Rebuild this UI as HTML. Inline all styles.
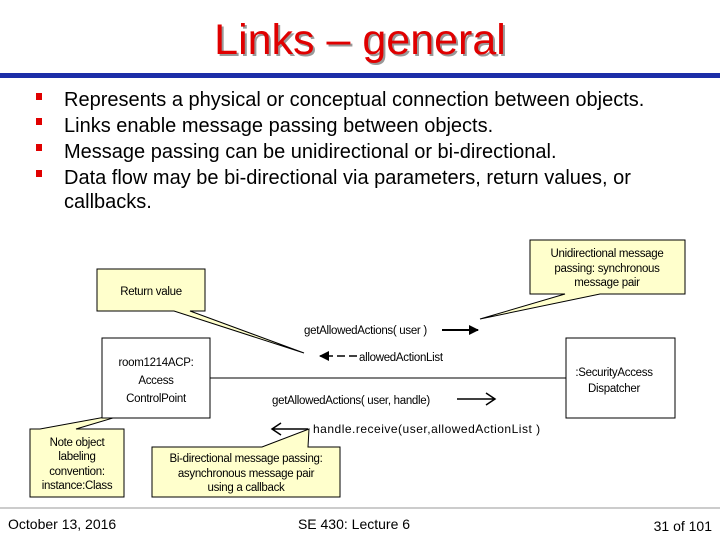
<!DOCTYPE html>
<html><head><meta charset="utf-8"><style>
body{margin:0;background:#fff}
svg{display:block}
text{font-family:"Liberation Sans",Arial,sans-serif}
</style></head><body>
<svg width="720" height="540" viewBox="0 0 720 540" xmlns="http://www.w3.org/2000/svg">
<defs>
<marker id="fa" markerWidth="10" markerHeight="10" refX="9" refY="5" orient="auto" markerUnits="userSpaceOnUse"><path d="M0,0 L10,5 L0,10 Z" fill="#000"/></marker>
</defs>
<text x="362" y="56" font-size="43" fill="#999" text-anchor="middle">Links – general</text>
<text x="360" y="54" font-size="43" fill="#e00000" text-anchor="middle">Links – general</text>
<rect x="0" y="73" width="720" height="5" fill="#1c2ea8"/>
<g font-size="20" fill="#000">
<rect x="36" y="93" width="6" height="7" fill="#e00000"/>
<rect x="36" y="118" width="6" height="7" fill="#e00000"/>
<rect x="36" y="144" width="6" height="7" fill="#e00000"/>
<rect x="36" y="170" width="6" height="7" fill="#e00000"/>
<text x="64" y="106">Represents a physical or conceptual connection between objects.</text>
<text x="64" y="132">Links enable message passing between objects.</text>
<text x="64" y="158">Message passing can be unidirectional or bi-directional.</text>
<text x="64" y="184">Data flow may be bi-directional via parameters, return values, or</text>
<text x="64" y="208">callbacks.</text>
</g>
<g stroke="#000" stroke-width="1">
<polygon points="97,269 205,269 205,311 190,311 304,353 174,311 97,311" fill="#ffffcc"/>
<polygon points="530,240 685,240 685,294 600,294 480,319 565,294 530,294" fill="#ffffcc"/>
<polygon points="30,429 40,429 133,412 76,429 124,429 124,497 30,497" fill="#ffffcc"/>
<polygon points="152,447 262,447 309,429 308,447 340,447 340,497 152,497" fill="#ffffcc"/>
<rect x="102" y="338" width="108" height="80" fill="#fff"/>
<rect x="566" y="338" width="109" height="80" fill="#fff"/>
<line x1="210" y1="378" x2="566" y2="378"/>
</g>
<g font-size="11.5" fill="#000" text-anchor="middle" letter-spacing="-0.3">
<text x="151" y="295">Return value</text>
<text x="607" y="257">Unidirectional message</text>
<text x="607" y="272">passing: synchronous</text>
<text x="607" y="286">message pair</text>
<text x="77" y="446">Note object</text>
<text x="77" y="460">labeling</text>
<text x="77" y="475">convention:</text>
<text x="77" y="489">instance:Class</text>
<text x="246" y="462">Bi-directional message passing:</text>
<text x="246" y="477">asynchronous message pair</text>
<text x="246" y="491">using a callback</text>
<text x="156" y="366">room1214ACP:</text>
<text x="156" y="384">Access</text>
<text x="156" y="402">ControlPoint</text>
<text x="614" y="376">:SecurityAccess</text>
<text x="614" y="392">Dispatcher</text>
</g>
<g font-size="11.5" fill="#000" letter-spacing="-0.3">
<text x="304" y="334">getAllowedActions( user )</text>
<text x="359" y="361">allowedActionList</text>
<text x="272" y="404">getAllowedActions( user, handle)</text>
<text x="313" y="433" letter-spacing="0.5" font-size="12">handle.receive(user,allowedActionList )</text>
</g>
<g stroke="#000" stroke-width="2" fill="none">
<line x1="442" y1="330" x2="478" y2="330" marker-end="url(#fa)"/>
<line x1="357" y1="356" x2="320" y2="356" stroke-dasharray="8,4" marker-end="url(#fa)" stroke-width="1.5"/>
<path d="M457,399 H494 M486,393 L495,399 L486,405" stroke-width="1.5"/>
<path d="M308,429 H273 M281,423 L272,429 L281,435" stroke-width="1.5"/>
</g>
<line x1="0" y1="508" x2="720" y2="508" stroke="#999" stroke-width="1"/>
<g font-size="14" fill="#000">
<text x="8" y="529">October 13, 2016</text>
<text x="354" y="529" text-anchor="middle">SE 430: Lecture 6</text>
<text x="712" y="531" text-anchor="end">31 of 101</text>
</g>
</svg>
</body></html>
